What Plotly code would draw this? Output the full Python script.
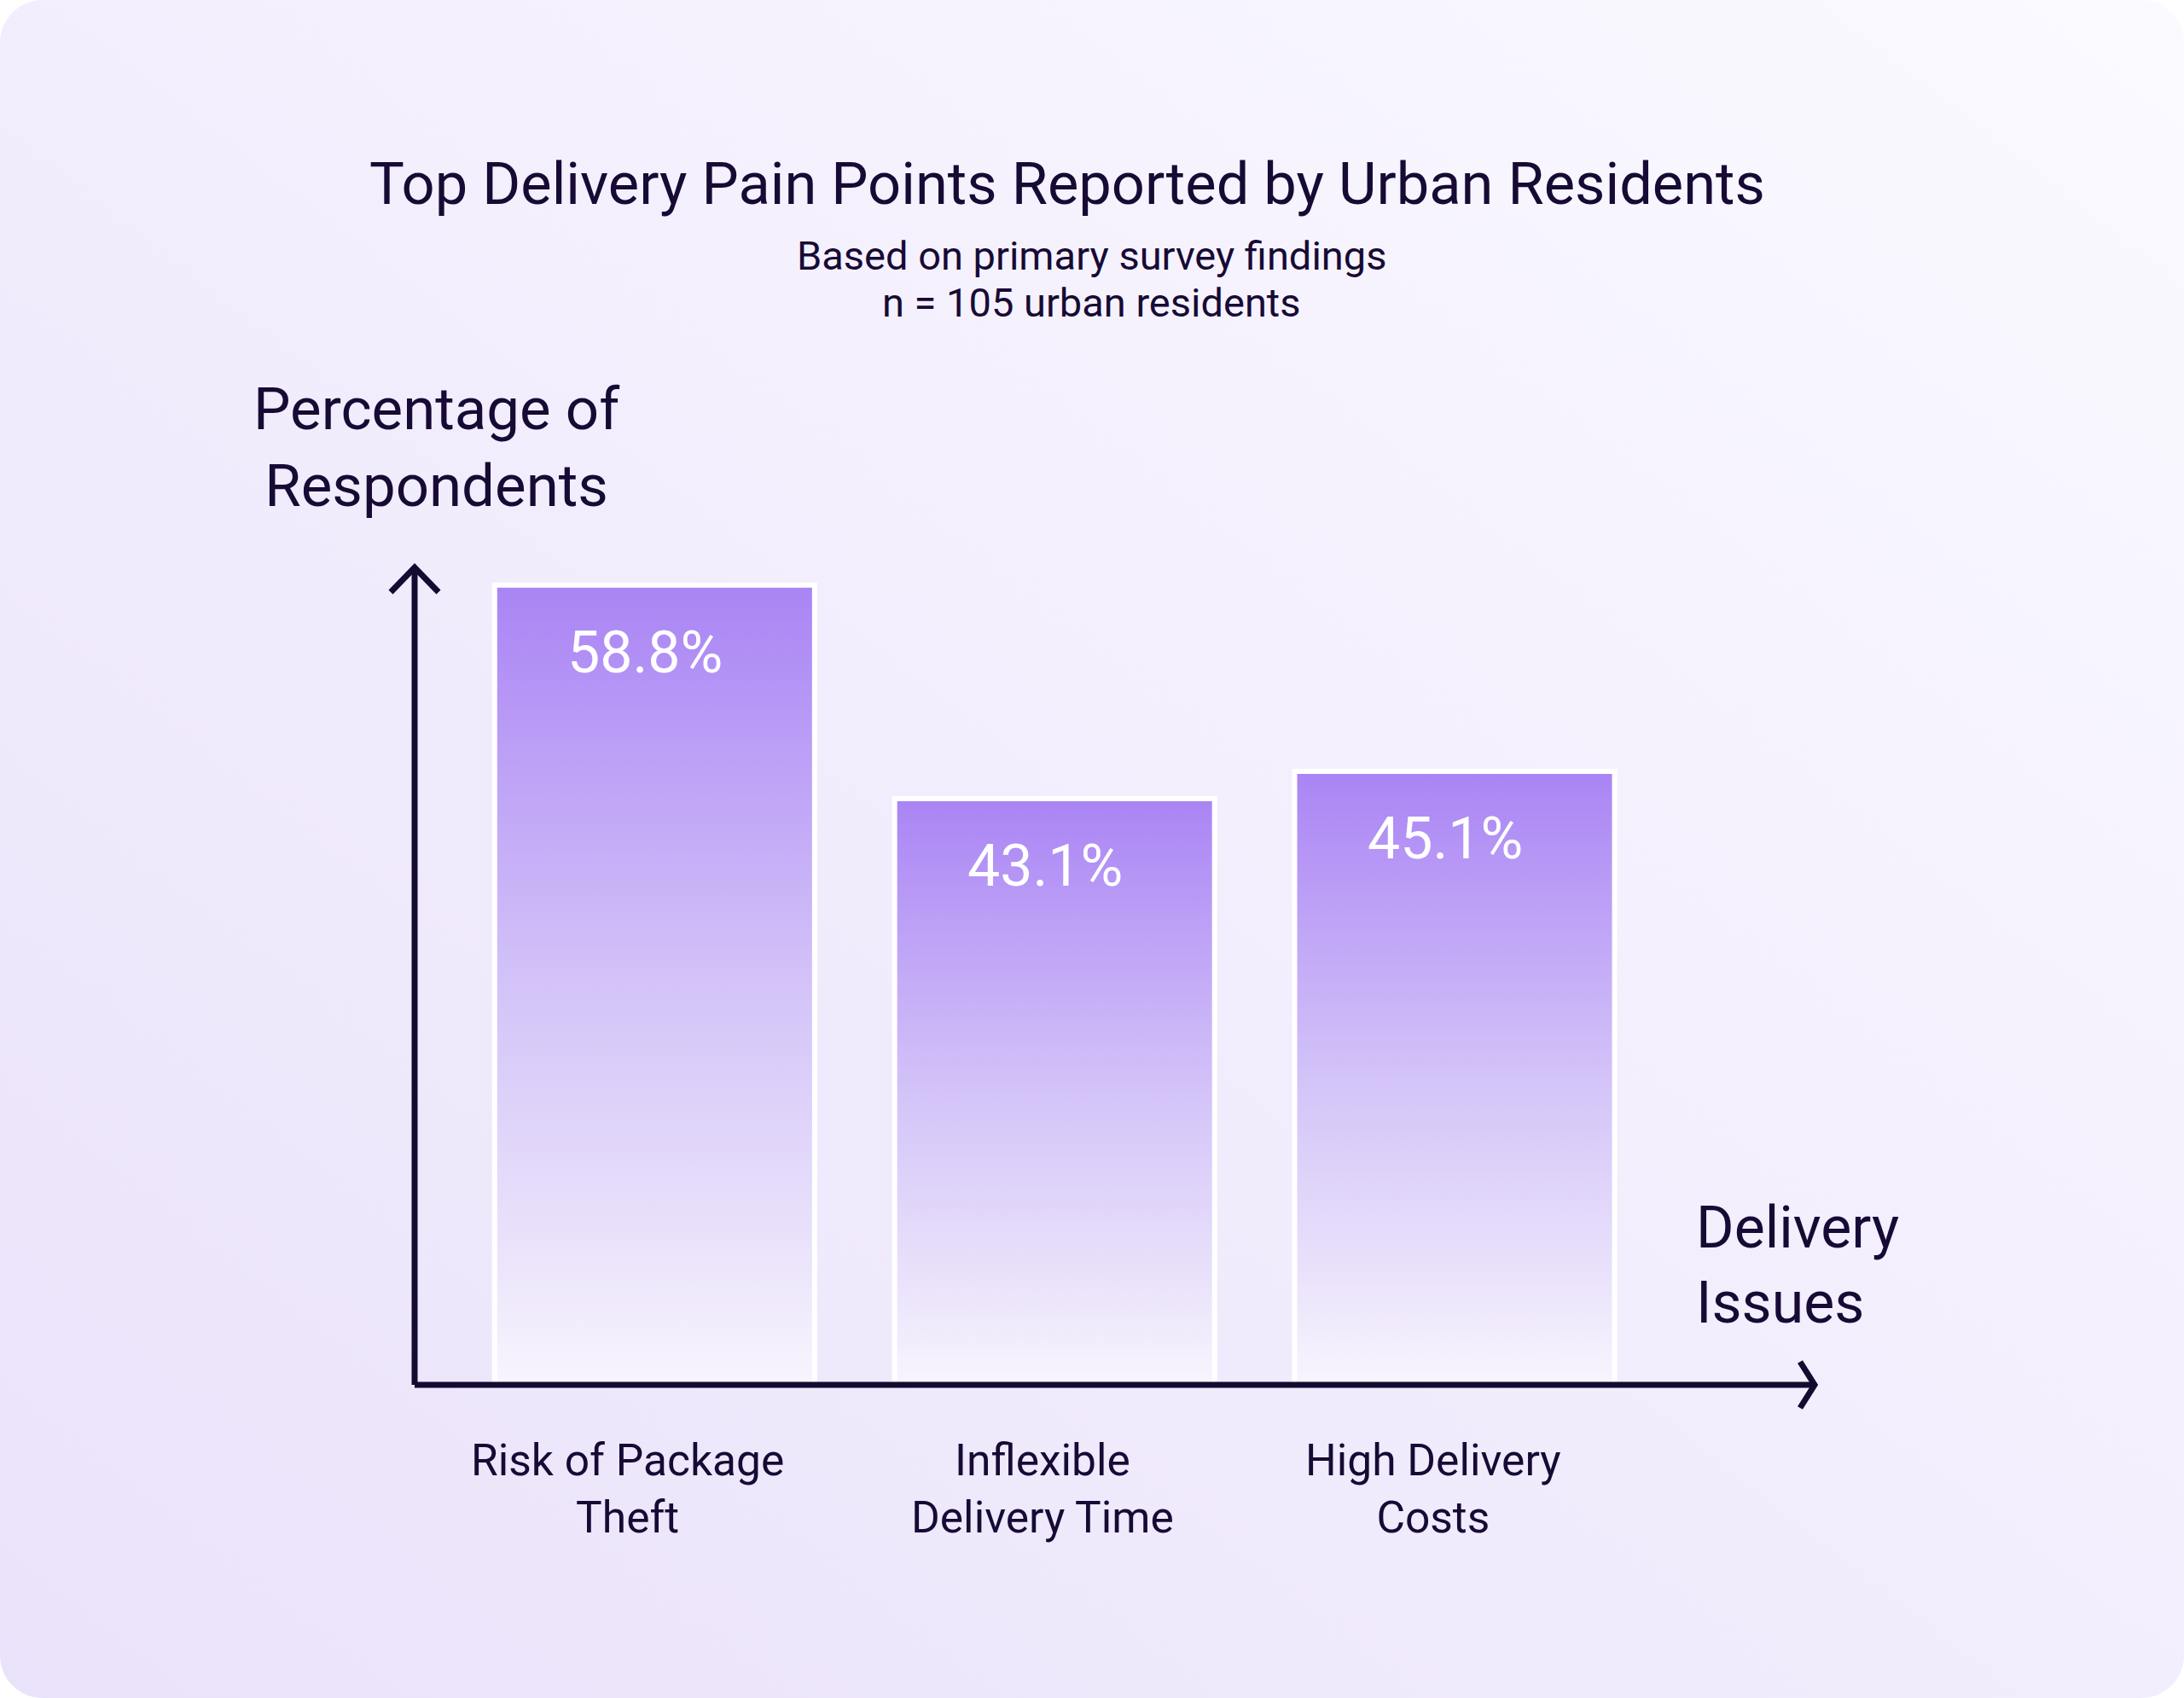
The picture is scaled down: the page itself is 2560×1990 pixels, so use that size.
import base64
import plotly.graph_objects as go

# ---- data ----
categories = ["Risk of Package<br>Theft", "Inflexible<br>Delivery Time", "High Delivery<br>Costs"]
values = [58.8, 43.1, 45.1]
value_labels = ["58.8%", "43.1%", "45.1%"]
title_text = "Top Delivery Pain Points Reported by Urban Residents"
subtitle_lines = ["Based on primary survey findings", "n = 105 urban residents"]
y_title = "Percentage of<br>Respondents"
x_title = "Delivery<br>Issues"

W, H = 2560, 1990
TXT = "#170b35"
FONT = "Roboto"

# pixel geometry of the plot area
px_left, px_right = 486, 2127
px_bottom, px_top = 1623, 665
x_range = [-0.6, 2.9]
y_max = 60.1
bar_w = 0.80
label_xshift = [-32, -14, -25]


def py(p):
    return 1 - p / H


fig = go.Figure()

# gradient bars (scatter fills built from the data values)
for i, v in enumerate(values):
    x0, x1 = i - bar_w / 2, i + bar_w / 2
    fig.add_trace(go.Scatter(
        x=[x0, x1, x1, x0, x0], y=[0, 0, v, v, 0],
        mode="lines", fill="toself",
        line=dict(color="#ffffff", width=6),
        fillgradient=dict(type="vertical", colorscale=[
            [0.0, "#f8f5fd"], [0.15, "#ece5fb"], [0.5, "#d3c3f8"],
            [0.8, "#bb9ef6"], [1.0, "#a984f4"]]),
        hoverinfo="skip", showlegend=False,
    ))

# background card as an svg image
svg = f'''<svg xmlns="http://www.w3.org/2000/svg" width="{W}" height="{H}" viewBox="0 0 {W} {H}">
<defs><linearGradient id="g" x1="0" y1="1" x2="1" y2="0">
<stop offset="0" stop-color="#eae2fa"/><stop offset="0.55" stop-color="#f3effd"/><stop offset="1" stop-color="#fbfaff"/>
</linearGradient></defs>
<rect x="0" y="0" width="{W}" height="{H}" rx="50" ry="50" fill="url(#g)"/></svg>'''
src = "data:image/svg+xml;base64," + base64.b64encode(svg.encode()).decode()

ann = []
ann.append(dict(text=title_text, x=1251 / W, y=py(173), xref="paper", yref="paper",
                xanchor="center", yanchor="top", showarrow=False,
                font=dict(family=FONT, size=68.6, color=TXT)))
for line, top in zip(subtitle_lines, [270, 325]):
    ann.append(dict(text=line, x=1279 / W, y=py(top), xref="paper", yref="paper",
                    xanchor="center", yanchor="top", showarrow=False,
                    font=dict(family=FONT, size=47, color=TXT)))
ann.append(dict(text=y_title, x=512 / W, y=py(437), xref="paper", yref="paper",
                xanchor="center", yanchor="top", showarrow=False, align="center",
                font=dict(family=FONT, size=69, color=TXT)))
ann.append(dict(text=x_title, x=1986 / W, y=py(1397), xref="paper", yref="paper",
                xanchor="left", yanchor="top", showarrow=False, align="left",
                font=dict(family=FONT, size=68, color=TXT)))
for i, (c, v, lab) in enumerate(zip(categories, values, value_labels)):
    ann.append(dict(text=c, x=i, y=0, xref="x", yref="y", xanchor="center", yanchor="top",
                    xshift=label_xshift[i], yshift=-56, showarrow=False, align="center",
                    font=dict(family=FONT, size=51.5, color=TXT)))
    ann.append(dict(text=lab, x=i, y=v, xref="x", yref="y", xanchor="center", yanchor="top",
                    xshift=-11, yshift=-37, showarrow=False,
                    font=dict(family=FONT, size=68, color="#ffffff")))

AX = "#150a30"
xl, xr = px_left / W, px_right / W
yb, yt = py(px_bottom), py(px_top)
shapes = [
    dict(type="line", xref="paper", yref="paper", x0=xl, x1=xr, y0=yb, y1=yb,
         line=dict(color=AX, width=7)),
    dict(type="line", xref="paper", yref="paper", x0=xl, x1=xl, y0=yb, y1=yt,
         line=dict(color=AX, width=7)),
    dict(type="path", xref="paper", yref="paper", xsizemode="pixel", ysizemode="pixel",
         xanchor=xr, yanchor=yb, path="M -17,-27 L 0,0 L -17,27",
         line=dict(color=AX, width=7)),
    dict(type="path", xref="paper", yref="paper", xsizemode="pixel", ysizemode="pixel",
         xanchor=xl, yanchor=yt, path="M -28,-29 L 0,0 L 28,-29",
         line=dict(color=AX, width=7)),
]

fig.update_layout(
    width=W, height=H, margin=dict(l=0, r=0, t=0, b=0),
    paper_bgcolor="#ffffff", plot_bgcolor="rgba(0,0,0,0)",
    xaxis=dict(domain=[xl, xr], range=x_range, visible=False, fixedrange=True),
    yaxis=dict(domain=[yb, yt], range=[0, y_max], visible=False, fixedrange=True),
    images=[dict(source=src, xref="paper", yref="paper", x=0, y=1, sizex=1, sizey=1,
                 xanchor="left", yanchor="top", sizing="stretch", layer="below")],
    annotations=ann, shapes=shapes, showlegend=False,
)

fig.write_html("out.html")
